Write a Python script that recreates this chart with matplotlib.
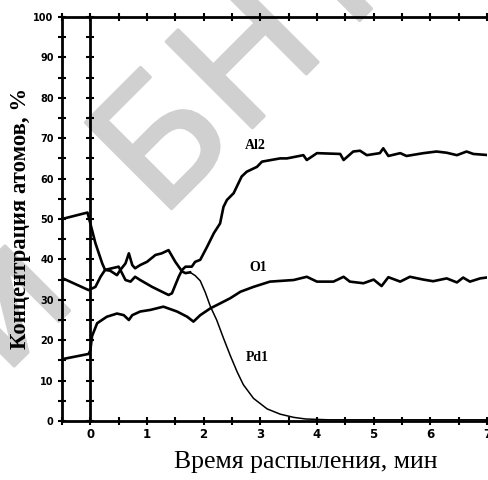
import numpy as np
import matplotlib
matplotlib.use("Agg")
import matplotlib.pyplot as plt
import matplotlib.patheffects as pe
from matplotlib.ticker import MultipleLocator

# depth profile, values
pd_x = [-0.5, -0.05, 0.09, 0.21, 0.26, 0.35, 0.47, 0.53, 0.62, 0.68, 0.74, 0.79, 0.88, 1.0,
        1.15, 1.26, 1.38, 1.5, 1.62, 1.68, 1.76, 1.85, 1.94, 2.03, 2.12, 2.23, 2.35, 2.47,
        2.59, 2.70, 2.88, 3.12, 3.35, 3.59, 3.8, 4.2, 5.5, 7.0]
pd_y = [50.0, 51.6, 44.0, 39.0, 37.4, 37.2, 36.1, 37.4, 39.0, 41.5, 38.6, 37.8, 38.6, 39.4,
        41.1, 41.5, 42.3, 39.4, 37.0, 36.6, 36.8, 36.0, 34.7, 31.8, 28.3, 25.0, 20.5, 16.2,
        12.2, 9.0, 5.6, 3.0, 1.7, 0.9, 0.5, 0.3, 0.3, 0.3]

al_x = [-0.5, -0.03, 0.09, 0.18, 0.26, 0.38, 0.50, 0.53, 0.62, 0.71, 0.79, 0.88, 1.09, 1.38,
        1.44, 1.56, 1.62, 1.68, 1.79, 1.85, 1.94, 2.06, 2.18, 2.29, 2.35, 2.41, 2.53, 2.67,
        2.76, 2.94, 3.03, 3.35, 3.47, 3.76, 3.82, 4.0, 4.41, 4.47, 4.64, 4.76, 4.88, 5.11,
        5.17, 5.26, 5.47, 5.58, 5.88, 6.11, 6.29, 6.47, 6.64, 6.76, 7.04]
al_y = [35.4, 32.4, 33.2, 35.7, 37.4, 37.8, 38.2, 37.4, 34.9, 34.5, 35.7, 34.9, 33.2, 31.2,
        31.6, 35.7, 37.4, 38.2, 38.2, 39.4, 39.9, 43.1, 46.5, 48.9, 53.0, 54.7, 56.4, 60.5,
        61.7, 62.9, 64.2, 65.0, 65.0, 65.8, 64.6, 66.3, 66.1, 64.6, 66.7, 66.9, 65.8, 66.3,
        67.5, 65.6, 66.3, 65.6, 66.3, 66.7, 66.4, 65.8, 66.7, 66.1, 65.8]

o_x = [-0.5, -0.03, 0.0, 0.03, 0.12, 0.29, 0.47, 0.59, 0.68, 0.74, 0.88, 1.06, 1.29, 1.53,
       1.71, 1.82, 1.94, 2.12, 2.29, 2.47, 2.65, 2.88, 3.17, 3.59, 3.82, 4.0, 4.29, 4.47,
       4.58, 4.82, 5.0, 5.14, 5.26, 5.47, 5.64, 5.88, 6.05, 6.29, 6.47, 6.58, 6.70, 6.88, 7.04]
o_y = [15.3, 16.6, 17.5, 21.0, 24.2, 25.8, 26.6, 26.2, 25.0, 26.2, 27.1, 27.5, 28.3, 27.1,
       25.8, 24.6, 26.2, 27.9, 29.1, 30.4, 32.0, 33.2, 34.5, 34.9, 35.7, 34.5, 34.5, 35.7,
       34.5, 34.1, 35.0, 33.4, 35.6, 34.5, 35.7, 35.0, 34.6, 35.3, 34.3, 35.5, 34.5, 35.3, 35.6]

labels = ["Al2", "O1", "Pd1"]
label_pos = [(2.91, 68.3), (2.96, 37.9), (2.95, 15.6)]

x_ticks = [0, 1, 2, 3, 4, 5, 6, 7]
y_ticks = list(range(0, 101, 10))

serif = ["Liberation Serif", "DejaVu Serif"]

fig = plt.figure(figsize=(4.89, 4.80), dpi=100)
ax = fig.add_axes([0.1268, 0.1229, 0.869, 0.8417])
ax.patch.set_visible(False)

# repository watermark behind the plot
wm_col = "#d0d0d0"
wm = dict(fontsize=120, color=wm_col, rotation=45, rotation_mode="anchor",
          va="baseline", zorder=-5, family="DejaVu Sans",
          path_effects=[pe.withStroke(linewidth=2.5, foreground=wm_col)])
fig.text(160 / 489, 1 - 220 / 480, "БНТУ", ha="left", **wm)
fig.text(80 / 489, 1 - 300 / 480, "Репозиторий", ha="right", **wm)

# Pd1: thick until the crossing, thin on the tail
n = sum(1 for v in pd_x if v <= 1.76)
ax.plot(pd_x[:n], pd_y[:n], color="black", lw=1.9)
ax.plot(pd_x[n - 1:], pd_y[n - 1:], color="black", lw=1.1)
ax.plot(al_x, al_y, color="black", lw=1.9)
ax.plot(o_x, o_y, color="black", lw=1.9)

for name, (lx, ly) in zip(labels, label_pos):
    ax.text(lx, ly, name, ha="center", va="center", fontsize=10,
            fontweight="bold", family=serif)

ax.set_xlim(-0.5, 7)
ax.set_ylim(0, 100)
ax.spines["right"].set_visible(False)
for s in ["left", "bottom", "top"]:
    ax.spines[s].set_linewidth(2)

ax.set_xticks(x_ticks)
ax.xaxis.set_minor_locator(MultipleLocator(0.5))
ax.set_yticks(y_ticks)
ax.yaxis.set_minor_locator(MultipleLocator(5))
ax.tick_params(which="both", direction="inout", length=6, width=1.5,
               top=True, right=False)
ax.tick_params(axis="x", pad=2, labelsize=8.5)
ax.tick_params(axis="y", pad=3, labelsize=7)
for lab in ax.get_xticklabels() + ax.get_yticklabels():
    lab.set_fontweight("bold")

# second vertical axis line at t = 0
ax0 = ax.twinx()
ax0.set_ylim(0, 100)
ax0.spines["right"].set_position(("data", 0))
ax0.spines["right"].set_linewidth(2)
for s in ["left", "bottom", "top"]:
    ax0.spines[s].set_visible(False)
ax0.set_yticks(y_ticks)
ax0.yaxis.set_minor_locator(MultipleLocator(5))
ax0.tick_params(which="both", direction="inout", length=6, width=1.5,
                labelright=False)

fig.text(306 / 489, 1 - 462 / 480, "Время распыления, мин", ha="center", va="center",
         fontsize=18.5, family=serif)
fig.text(21 / 489, 1 - 218 / 480, "Концентрация атомов, %", ha="center", va="center",
         rotation=90, fontsize=16.4, fontweight="bold", family=serif)

fig.savefig("out.png", dpi=100)
